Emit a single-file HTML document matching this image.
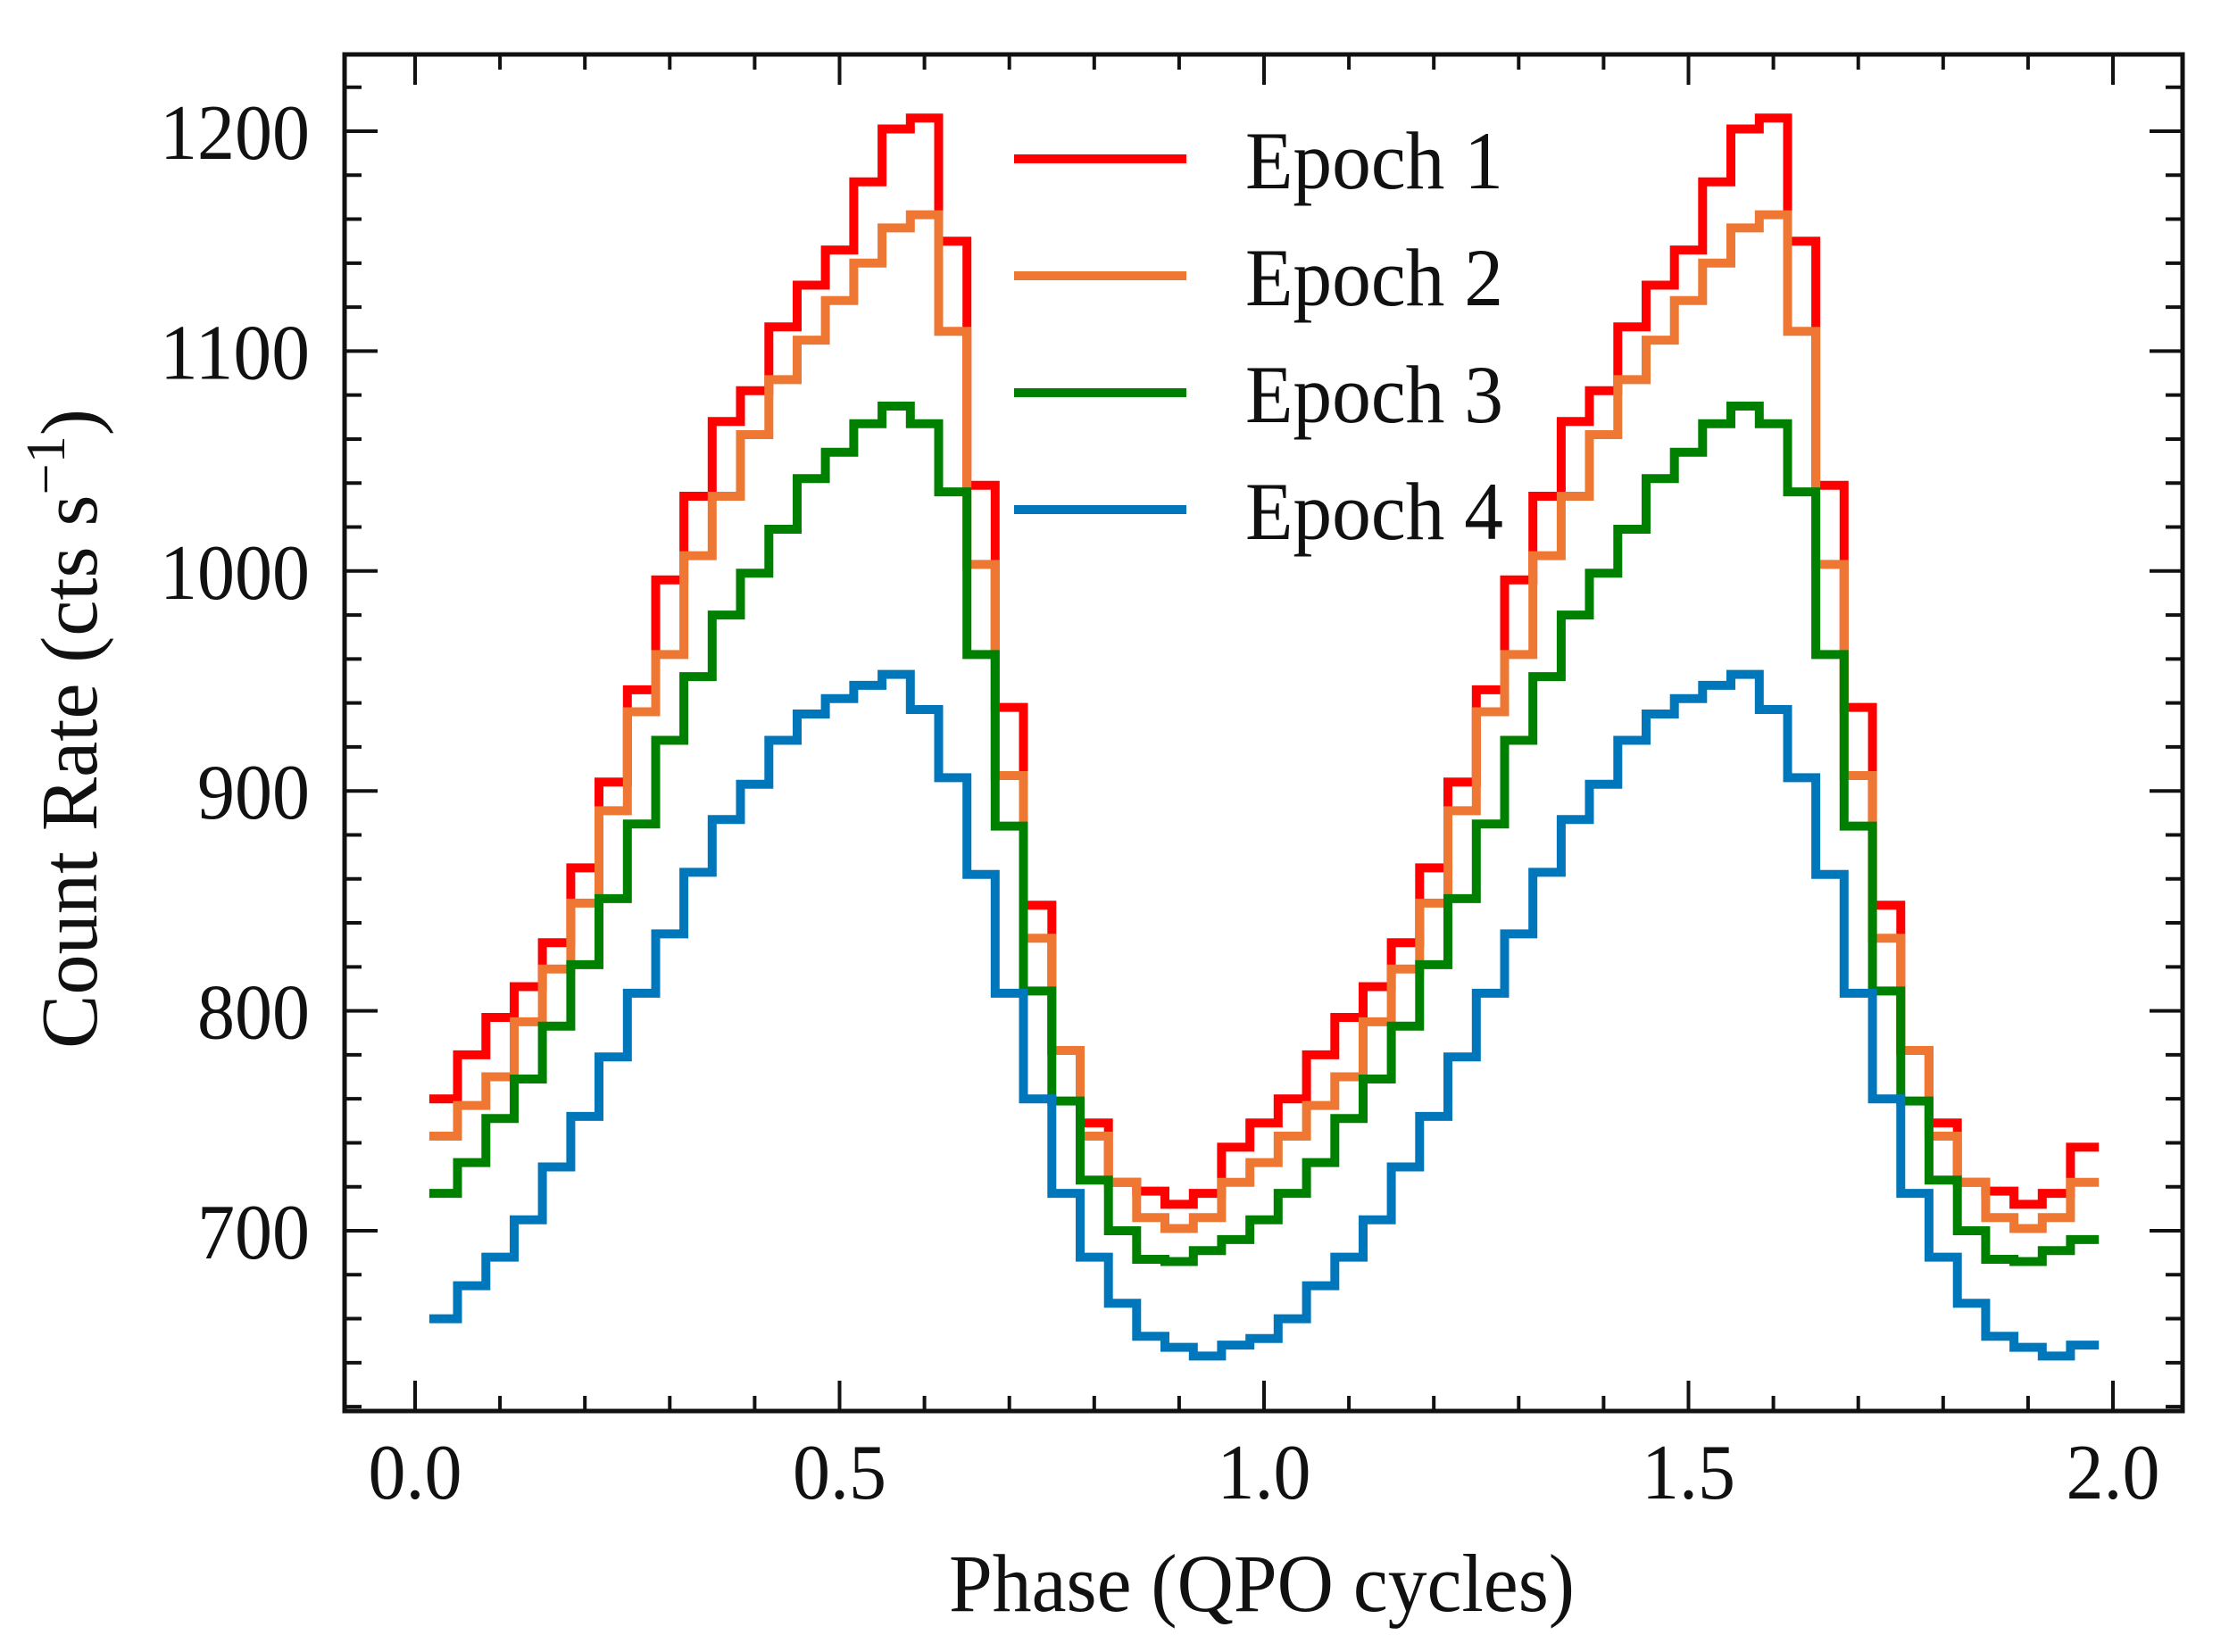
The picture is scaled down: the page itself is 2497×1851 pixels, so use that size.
<!DOCTYPE html>
<html>
<head>
<meta charset="utf-8">
<style>
  html,body{margin:0;padding:0;background:#fff;}
  svg{display:block;}
  text{font-family:"Liberation Serif",serif;fill:#111;}
</style>
</head>
<body>
<svg id="chart" width="2497" height="1851" viewBox="0 0 2497 1851" xmlns="http://www.w3.org/2000/svg">
  <rect x="0" y="0" width="2497" height="1851" fill="#fff"/>
  <g id="series-layer"></g>
  <g id="axes-layer"></g>
  <g id="legend"></g>
</svg>
<script>
// ---- data (one QPO cycle, 30 phase bins; repeated for two cycles) ----
const seriesNames = ["Epoch 1", "Epoch 2", "Epoch 3", "Epoch 4"];
const seriesColors = ["#ff0000", "#ee7733", "#008000", "#0077bb"];
const epoch1 = [760,780,797,811,831,865,904,946,996,1034,1068,1082,1111,1130,1146,1177,1201,1206,1150,1039,938,848,782,749,722,718,712,717,738,749];
const epoch2 = [743,757,770,795,819,849,891,936,962,1007,1034,1062,1087,1105,1123,1140,1156,1162,1109,1003,907,833,782,743,722,706,701,706,722,731];
const epoch3 = [717,731,751,769,793,821,851,885,923,952,980,999,1019,1042,1054,1067,1075,1067,1036,962,884,809,759,723,700,687,686,691,696,705];
const epoch4 = [660,675,688,705,729,752,779,808,835,863,887,903,923,935,942,948,953,937,906,862,808,760,717,688,667,652,647,643,648,651];
const nCycles = 2;
const xTickValues = [0.0, 0.5, 1.0, 1.5, 2.0];
const xTickLabels = ["0.0", "0.5", "1.0", "1.5", "2.0"];
const yTickValues = [700, 800, 900, 1000, 1100, 1200];
const yTickLabels = ["700", "800", "900", "1000", "1100", "1200"];

// ---- geometry ----
const NS = "http://www.w3.org/2000/svg";
const frame = {l:386, r:2445, t:61, b:1581};
function xScale(p){ return 465 + 951 * p; }
function yScale(v){ return 147 + (1200 - v) * 2.464; }
function mk(tag, attrs, parent){
  const e = document.createElementNS(NS, tag);
  for (const k in attrs) e.setAttribute(k, attrs[k]);
  parent.appendChild(e);
  return e;
}

// ---- series ----
const seriesLayer = document.getElementById("series-layer");
const allSeries = [epoch1, epoch2, epoch3, epoch4];
allSeries.forEach((vals, s) => {
  const n = vals.length;
  const full = [];
  for (let c = 0; c < nCycles; c++) for (let i = 0; i < n; i++) full.push(vals[i]);
  full.pop();
  let d = "";
  for (let j = 0; j < full.length; j++) {
    const x0 = xScale((j + 0.5) / n), x1 = xScale((j + 1.5) / n), y = yScale(full[j]);
    d += (j === 0 ? "M" : "L") + x0.toFixed(1) + "," + y.toFixed(1) + "L" + x1.toFixed(1) + "," + y.toFixed(1);
  }
  const p = mk("path", {d: d, fill: "none", stroke: seriesColors[s], "stroke-width": 10, "stroke-linejoin": "miter"}, seriesLayer);
  
  
});

// ---- axes ----
const ax = document.getElementById("axes-layer");
const fr = mk("rect", {x: frame.l, y: frame.t, width: frame.r - frame.l, height: frame.b - frame.t, fill: "none", stroke: "#111", "stroke-width": 5}, ax);



for (let k = -1; k <= 21; k++) {
  const p = k / 10;
  const x = xScale(p);
  if (x <= frame.l + 3 || x >= frame.r - 3) continue;
  const major = (k % 5 === 0);
  const len = major ? 34 : 17;
  const t1 = mk("line", {x1: x, y1: frame.b, x2: x, y2: frame.b - len, stroke: "#111", "stroke-width": 4}, ax);
  
  
  const t2 = mk("line", {x1: x, y1: frame.t, x2: x, y2: frame.t + len, stroke: "#111", "stroke-width": 4}, ax);
  
  
}
xTickValues.forEach((v, i) => {
  const t = mk("text", {x: xScale(v), y: 1679, "text-anchor": "middle", "font-size": 88, textLength: 105, lengthAdjust: "spacingAndGlyphs"}, ax);
  t.textContent = xTickLabels[i];
  
  
});

for (let v = 620; v <= 1220; v += 20) {
  const y = yScale(v);
  if (y <= frame.t + 3 || y >= frame.b - 3) continue;
  const major = (v % 100 === 0);
  const len = major ? 37 : 19;
  const t1 = mk("line", {x1: frame.l, y1: y, x2: frame.l + len, y2: y, stroke: "#111", "stroke-width": 4}, ax);
  
  
  const t2 = mk("line", {x1: frame.r, y1: y, x2: frame.r - len, y2: y, stroke: "#111", "stroke-width": 4}, ax);
  
  
}
yTickValues.forEach((v, i) => {
  const lab = yTickLabels[i];
  const t = mk("text", {x: 347, y: yScale(v) + 31, "text-anchor": "end", "font-size": 88, textLength: lab.length * 42, lengthAdjust: "spacingAndGlyphs"}, ax);
  t.textContent = lab;
  
  
});

const xt = mk("text", {x: 1063, y: 1805, "font-size": 92, textLength: 701, lengthAdjust: "spacingAndGlyphs"}, ax);
xt.textContent = "Phase (QPO cycles)";



const yt = mk("text", {x: 0, y: 0, "font-size": 90, transform: "translate(108,1175) rotate(-90)", textLength: 717, lengthAdjust: "spacingAndGlyphs"}, ax);


yt.appendChild(document.createTextNode("Count Rate (cts s"));
const sup = mk("tspan", {"font-size": 62, dy: -36}, yt);
sup.textContent = "\u22121";
const close = mk("tspan", {"font-size": 90, dy: 36}, yt);
close.textContent = ")";

// ---- legend ----
const lg = document.getElementById("legend");
const legendY = [178, 309, 440, 571];
seriesNames.forEach((name, i) => {
  const l = mk("line", {x1: 1136, y1: legendY[i], x2: 1329, y2: legendY[i], stroke: seriesColors[i], "stroke-width": 10}, lg);
  
  
  const t = mk("text", {x: 1395, y: legendY[i] + 33, "font-size": 92, textLength: 289, lengthAdjust: "spacingAndGlyphs"}, lg);
  t.textContent = name;
  
  
});
</script>
</body>
</html>
